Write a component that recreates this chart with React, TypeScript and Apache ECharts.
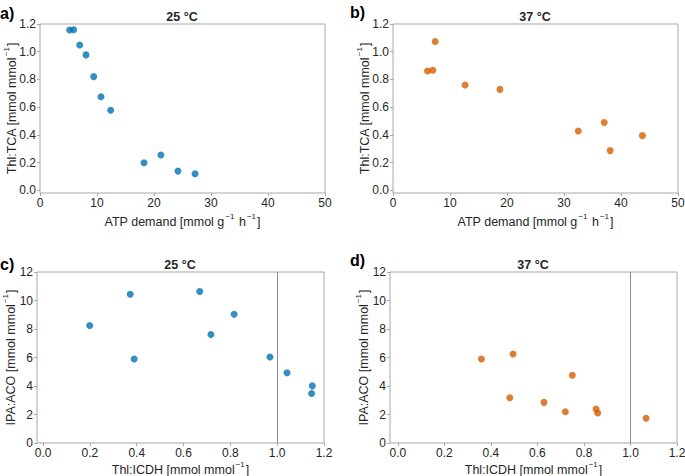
import React, { useEffect, useRef } from "react";
import * as echarts from "echarts";

// Panel a) 25 °C : ATP demand vs Thl:TCA
const atp25 = [5.2, 5.9, 6.96, 8.07, 9.42, 10.7, 12.4, 18.25, 21.2, 24.2, 27.2];
const thlTca25 = [1.157, 1.159, 1.048, 0.977, 0.82, 0.675, 0.578, 0.198, 0.254, 0.138, 0.119];
// Panel b) 37 °C
const atp37 = [6.06, 7.0, 7.41, 12.65, 18.76, 32.5, 37.06, 38.1, 43.76];
const thlTca37 = [0.861, 0.866, 1.074, 0.76, 0.728, 0.428, 0.489, 0.286, 0.394];
// Panel c) 25 °C : Thl:ICDH vs IPA:ACO
const thlIcdh25 = [0.199, 0.372, 0.389, 0.669, 0.717, 0.816, 0.969, 1.042, 1.15, 1.147];
const ipaAco25 = [8.25, 10.44, 5.89, 10.63, 7.61, 9.03, 6.03, 4.93, 4.01, 3.47];
// Panel d) 37 °C
const thlIcdh37 = [0.359, 0.495, 0.481, 0.628, 0.72, 0.75, 0.852, 0.859, 1.067];
const ipaAco37 = [5.89, 6.25, 3.18, 2.85, 2.19, 4.76, 2.38, 2.1, 1.74];

const ratioTicks = [0, 0.2, 0.4, 0.6, 0.8, 1.0, 1.2];
const ipaTicks = [0, 2, 4, 6, 8, 10, 12];
const atpTicks = [0, 10, 20, 30, 40, 50];

const BLUE = "#0072B2";
const ORANGE = "#D55E00";
const FRAME = "#a8a8a8";
const TEXT = "#262626";
const FONT = "Liberation Sans, Arial, sans-serif";

const zip = (xs: number[], ys: number[]) => xs.map((x, i) => [x, ys[i]]);

const rich = {
  n: { fontSize: 12.5, color: TEXT, fontFamily: FONT, lineHeight: 16, verticalAlign: "bottom" },
  s: { fontSize: 8, color: TEXT, fontFamily: FONT, lineHeight: 16, verticalAlign: "top", padding: [0, 1, 0, 1] },
};

const atpName = "{n|ATP demand [mmol g}{s|−1}{n| h}{s|−1}{n|]}";
const tcaName = "{n|Thl:TCA [mmol mmol}{s|−1}{n|]}";
const icdhName = "{n|Thl:ICDH [mmol mmol}{s|−1}{n|]}";
const ipaName = "{n|IPA:ACO [mmol mmol}{s|−1}{n|]}";

function makeAxis(gridIndex: number, min: number, max: number, ticks: number[], dec: number, name: string, gap: number) {
  return {
    type: "value",
    gridIndex,
    min,
    max,
    name,
    nameLocation: "middle",
    nameGap: gap,
    nameMoveOverlap: false,
    nameTextStyle: { rich },
    splitLine: { show: false },
    axisLine: { show: false, onZero: false },
    axisTick: { show: true, customValues: ticks, length: 3, lineStyle: { color: FRAME } },
    axisLabel: {
      customValues: ticks,
      formatter: (v: number) => v.toFixed(dec),
      color: TEXT,
      fontSize: 12,
      fontFamily: FONT,
      margin: 4,
    },
  };
}

const gridBase = {
  show: true,
  borderColor: FRAME,
  borderWidth: 1,
  backgroundColor: "transparent",
  containLabel: false,
  outerBoundsMode: "none",
};

export default function App() {
  const ref = useRef<HTMLDivElement>(null);
  useEffect(() => {
    if (!ref.current) return;
    const chart = echarts.init(ref.current, undefined, { renderer: "svg" });
    const vline = {
      silent: true,
      symbol: "none",
      label: { show: false },
      lineStyle: { color: "#8c8c8c", width: 1, type: "solid" },
      data: [{ xAxis: 1 }],
    };
    chart.setOption({
      animation: false,
      backgroundColor: "#ffffff",
      grid: [
        { ...gridBase, left: 40, top: 24, width: 285, height: 169 },
        { ...gridBase, left: 393, top: 24, width: 285, height: 169 },
        { ...gridBase, left: 37, top: 272, width: 287, height: 171 },
        { ...gridBase, left: 390, top: 272, width: 287, height: 171 },
      ],
      xAxis: [
        makeAxis(0, 0, 50, atpTicks, 0, atpName, 19),
        makeAxis(1, 0, 50, atpTicks, 0, atpName, 19),
        makeAxis(2, -0.026, 1.2, ratioTicks, 1, icdhName, 17),
        makeAxis(3, -0.034, 1.2, ratioTicks, 1, icdhName, 17),
      ],
      yAxis: [
        makeAxis(0, -0.02, 1.2, ratioTicks, 1, tcaName, 21.5),
        makeAxis(1, -0.02, 1.2, ratioTicks, 1, tcaName, 21.5),
        makeAxis(2, 0, 12, ipaTicks, 0, ipaName, 20),
        makeAxis(3, 0, 12, ipaTicks, 0, ipaName, 20),
      ],
      series: [
        { type: "scatter", xAxisIndex: 0, yAxisIndex: 0, data: zip(atp25, thlTca25), symbolSize: 7, itemStyle: { color: BLUE } },
        { type: "scatter", xAxisIndex: 1, yAxisIndex: 1, data: zip(atp37, thlTca37), symbolSize: 7, itemStyle: { color: ORANGE } },
        { type: "scatter", xAxisIndex: 2, yAxisIndex: 2, data: zip(thlIcdh25, ipaAco25), symbolSize: 7, itemStyle: { color: BLUE }, markLine: vline },
        { type: "scatter", xAxisIndex: 3, yAxisIndex: 3, data: zip(thlIcdh37, ipaAco37), symbolSize: 7, itemStyle: { color: ORANGE }, markLine: vline },
      ],
      graphic: [
        { type: "text", x: 0, y: 13, style: { text: "a)", font: `bold 16px ${FONT}`, fill: "#000", textVerticalAlign: "middle" } },
        { type: "text", x: 350, y: 12, style: { text: "b)", font: `bold 16px ${FONT}`, fill: "#000", textVerticalAlign: "middle" } },
        { type: "text", x: 0, y: 264, style: { text: "c)", font: `bold 16px ${FONT}`, fill: "#000", textVerticalAlign: "middle" } },
        { type: "text", x: 350, y: 260, style: { text: "d)", font: `bold 16px ${FONT}`, fill: "#000", textVerticalAlign: "middle" } },
        { type: "text", x: 182, y: 17, style: { text: "25 °C", font: `bold 12.5px ${FONT}`, fill: TEXT, textAlign: "center", textVerticalAlign: "middle" } },
        { type: "text", x: 535, y: 17, style: { text: "37 °C", font: `bold 12.5px ${FONT}`, fill: TEXT, textAlign: "center", textVerticalAlign: "middle" } },
        { type: "text", x: 180, y: 265, style: { text: "25 °C", font: `bold 12.5px ${FONT}`, fill: TEXT, textAlign: "center", textVerticalAlign: "middle" } },
        { type: "text", x: 533, y: 265, style: { text: "37 °C", font: `bold 12.5px ${FONT}`, fill: TEXT, textAlign: "center", textVerticalAlign: "middle" } },
      ],
    });
    return () => chart.dispose();
  }, []);
  return <div ref={ref} style={{ width: 685, height: 476, position: "absolute", left: 0, top: 0 }} />;
}
